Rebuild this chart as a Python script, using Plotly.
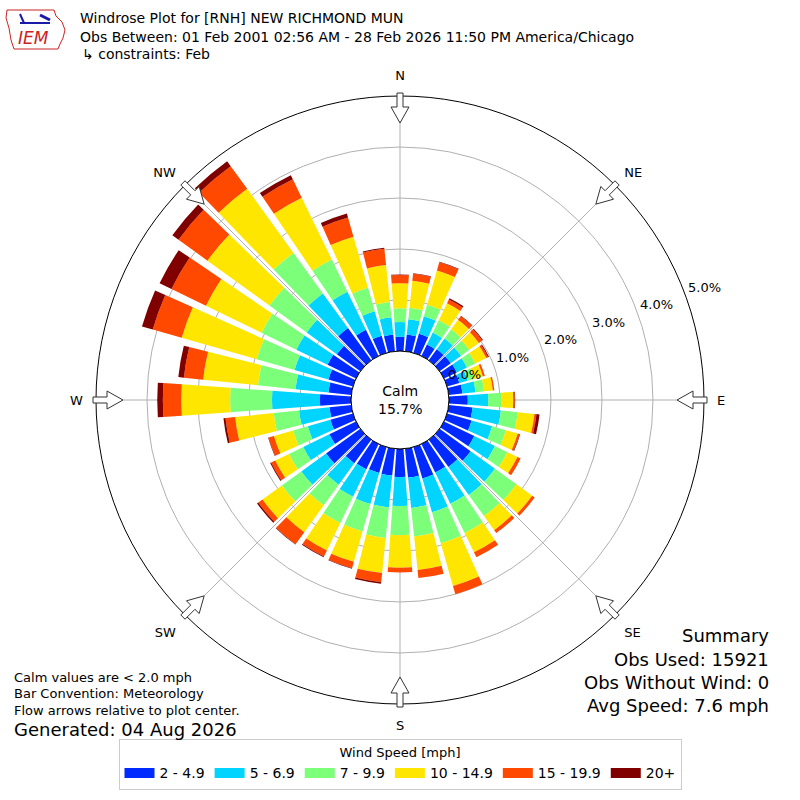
import math
import plotly.graph_objects as go

# wind direction bins (degrees, meteorological)
directions = [0, 10, 20, 30, 40, 50, 60, 70, 80, 90, 100, 110, 120, 130, 140, 150, 160, 170,
              180, 190, 200, 210, 220, 230, 240, 250, 260, 270, 280, 290, 300, 310, 320, 330, 340, 350]

# percent of observations per speed bin, one value per direction
spd_2_5 = [0.28, 0.33, 0.39, 0.25, 0.27, 0.27, 0.28, 0.25, 0.27, 0.37, 0.47, 0.50, 0.66, 0.75, 0.66, 0.62, 0.64, 0.57,
           0.55, 0.53, 0.53, 0.55, 0.57, 0.83, 0.58, 0.46, 0.43, 0.61, 0.45, 0.50, 0.62, 0.57, 0.78, 0.57, 0.35, 0.33]
spd_5_7 = [0.29, 0.30, 0.36, 0.26, 0.26, 0.25, 0.22, 0.17, 0.26, 0.40, 0.56, 0.42, 0.45, 0.59, 0.68, 0.68, 0.69, 0.60,
           0.57, 0.63, 0.63, 0.60, 0.52, 0.60, 0.57, 0.46, 0.60, 0.94, 0.65, 0.69, 0.68, 0.73, 0.84, 0.83, 0.50, 0.34]
spd_7_10 = [0.27, 0.23, 0.23, 0.27, 0.22, 0.20, 0.18, 0.13, 0.17, 0.26, 0.33, 0.28, 0.27, 0.52, 0.51, 0.64, 0.63, 0.56,
            0.57, 0.60, 0.56, 0.57, 0.50, 0.47, 0.31, 0.30, 0.50, 0.82, 0.74, 0.77, 0.76, 0.90, 0.98, 0.70, 0.48, 0.30]
spd_10_15 = [0.49, 0.53, 0.70, 0.37, 0.23, 0.23, 0.24, 0.18, 0.17, 0.23, 0.33, 0.24, 0.22, 0.38, 0.34, 0.42, 0.87, 0.66,
             0.64, 0.69, 0.62, 0.60, 0.65, 0.47, 0.30, 0.39, 0.76, 0.96, 1.08, 1.53, 1.21, 1.50, 1.55, 1.35, 1.04, 0.73]
spd_15_20 = [0.16, 0.14, 0.17, 0.08, 0.09, 0.08, 0.04, 0.04, 0.03, 0.03, 0.04, 0.04, 0.07, 0.06, 0.07, 0.11, 0.17, 0.16,
             0.09, 0.18, 0.13, 0.13, 0.29, 0.10, 0.09, 0.11, 0.19, 0.36, 0.38, 0.59, 0.75, 0.70, 0.55, 0.40, 0.39, 0.32]
spd_20p = [0.01, 0.01, 0.01, 0.03, 0.01, 0.02, 0.02, 0.00, 0.00, 0.01, 0.06, 0.01, 0.00, 0.00, 0.00, 0.00, 0.00, 0.00,
           0.00, 0.03, 0.01, 0.02, 0.01, 0.03, 0.02, 0.01, 0.04, 0.11, 0.11, 0.22, 0.26, 0.15, 0.12, 0.09, 0.08, 0.02]

bins = ["2 - 4.9", "5 - 6.9", "7 - 9.9", "10 - 14.9", "15 - 19.9", "20+"]
series = [spd_2_5, spd_5_7, spd_7_10, spd_10_15, spd_15_20, spd_20p]
colors = ["#002aff", "#00d4ff", "#7cff79", "#ffe600", "#ff4800", "#800000"]

compass = ["N", "NE", "E", "SE", "S", "SW", "W", "NW"]
compass_deg = [0, 45, 90, 135, 180, 225, 270, 315]
rings = [0, 1, 2, 3, 4, 5]

FONT = "DejaVu Sans"

# plot geometry in pixels (800x800 page)
CX, CY = 400, 400
R_OUT = 304
HOLE = 0.161
R_MAX = 5.0

fig = go.Figure()
for name, vals, col in zip(bins, series, colors):
    fig.add_trace(go.Barpolar(r=vals, theta=directions, name=name, width=8.2, showlegend=False,
                              marker=dict(color=col, line=dict(width=0))))
# legend entries drawn as wide swatches
for name, col in zip(bins, colors):
    fig.add_trace(go.Scatterpolar(r=[None], theta=[None], name=name, mode="lines",
                                  line=dict(color=col, width=12)))

fig.update_layout(
    width=800, height=800,
    margin=dict(l=0, r=0, t=0, b=0),
    paper_bgcolor="white",
    font=dict(family=FONT, size=13, color="black"),
    polar=dict(
        domain=dict(x=[(CX - R_OUT) / 800, (CX + R_OUT) / 800],
                    y=[(CY - R_OUT) / 800, (CY + R_OUT) / 800]),
        hole=HOLE,
        bgcolor="white",
        barmode="stack",
        radialaxis=dict(range=[0, R_MAX], tickvals=rings, showticklabels=False,
                        showline=False, ticks="",
                        gridcolor="#b0b0b0", gridwidth=1, layer="above traces"),
        angularaxis=dict(rotation=90, direction="clockwise",
                         tickmode="array", tickvals=compass_deg, ticktext=compass,
                         ticks="outside", ticklen=10, tickcolor="rgba(0,0,0,0)",
                         showline=True, linecolor="black", linewidth=1,
                         gridcolor="#b0b0b0", gridwidth=1, layer="above traces",
                         tickfont=dict(size=13)),
    ),
    legend=dict(orientation="h", x=0.5, xanchor="center", y=0.012, yanchor="bottom",
                bordercolor="#cccccc", borderwidth=1, font=dict(size=14), itemwidth=30,
                title=dict(text="Wind Speed [mph]", side="top center", font=dict(size=13))),
)

def px(x, y):
    return x / 800.0, 1 - y / 800.0

# flow arrows on the outer ring, pointing to the centre
shapes = []
for a in compass_deg:
    t = math.radians(a)
    ux, uy = math.sin(t), -math.cos(t)
    vx, vy = math.cos(t), math.sin(t)
    def pt(r, w):
        return px(CX + r * ux + w * vx, CY + r * uy + w * vy)
    pts = [pt(307, 3), pt(293, 3), pt(293, 9), pt(277, 0), pt(293, -9), pt(293, -3), pt(307, -3)]
    path = "M " + " L ".join("%.5f,%.5f" % p for p in pts) + " Z"
    shapes.append(dict(type="path", path=path, xref="paper", yref="paper",
                       fillcolor="white", line=dict(color="#333333", width=1)))

# calm circle
r_hole = HOLE * R_OUT
shapes.append(dict(type="circle", xref="paper", yref="paper",
                   x0=(CX - r_hole) / 800, x1=(CX + r_hole) / 800,
                   y0=(800 - CY - r_hole) / 800, y1=(800 - CY + r_hole) / 800,
                   fillcolor="white", line=dict(color="black", width=1)))

# IEM logo (rough)
iowa = [(7, 10), (54, 10), (56, 16), (62, 22), (65, 30), (63, 38), (60, 44), (58, 49),
        (14, 49), (11, 40), (9, 28), (6, 18)]
shapes.append(dict(type="path", xref="paper", yref="paper",
                   path="M " + " L ".join("%.5f,%.5f" % px(x, y) for x, y in iowa) + " Z",
                   line=dict(color="#cc2222", width=1)))
shapes.append(dict(type="line", xref="paper", yref="paper",
                   x0=px(20, 23)[0], y0=px(20, 23)[1], x1=px(50, 23)[0], y1=px(50, 23)[1],
                   line=dict(color="#1a1aa8", width=2)))
shapes.append(dict(type="line", xref="paper", yref="paper",
                   x0=px(20, 14)[0], y0=px(20, 14)[1], x1=px(24, 23)[0], y1=px(24, 23)[1],
                   line=dict(color="#1a1aa8", width=2)))
shapes.append(dict(type="line", xref="paper", yref="paper",
                   x0=px(40, 15)[0], y0=px(40, 15)[1], x1=px(50, 20)[0], y1=px(50, 20)[1],
                   line=dict(color="#1a1aa8", width=3)))
fig.update_layout(shapes=shapes)

def text(x, y, s, size=13, anchor="left", yanchor="middle", **kw):
    fig.add_annotation(x=x / 800.0, y=1 - y / 800.0, xref="paper", yref="paper", text=s,
                       showarrow=False, xanchor=anchor, yanchor=yanchor,
                       font=dict(size=size, family=FONT, **kw))

# radial labels along the 20 degree line
lab_ang = math.radians(20)
for v in rings:
    rr = r_hole + v / R_MAX * (R_OUT - r_hole)
    text(CX + rr * math.cos(lab_ang), CY - rr * math.sin(lab_ang) + 1, "%.1f%%" % v, 13,
         "left", "bottom")

text(33, 38, "<i>IEM</i>", 17, "center", color="#cc2222")
text(78, 18, "Windrose Plot for [RNH] NEW RICHMOND MUN", 14)
text(78, 37, "Obs Between: 01 Feb 2001 02:56 AM - 28 Feb 2026 11:50 PM America/Chicago", 14)
text(80, 54, "↳ constraints: Feb", 14)

fig.add_annotation(x=0.5, y=0.5, xref="paper", yref="paper", text="Calm<br>15.7%",
                   showarrow=False, font=dict(size=14, family=FONT))

text(12, 677, "Calm values are < 2.0 mph", 13)
text(12, 693, "Bar Convention: Meteorology", 13)
text(12, 710, "Flow arrows relative to plot center.", 13)
text(12, 729, "Generated: 04 Aug 2026", 18)

text(771, 635, "Summary", 18, "right")
text(771, 659, "Obs Used: 15921", 18, "right")
text(771, 682, "Obs Without Wind: 0", 18, "right")
text(771, 705, "Avg Speed: 7.6 mph", 18, "right")

fig.write_html("out.html", config={"displayModeBar": False},
               post_script="document.body.style.margin='0';")
